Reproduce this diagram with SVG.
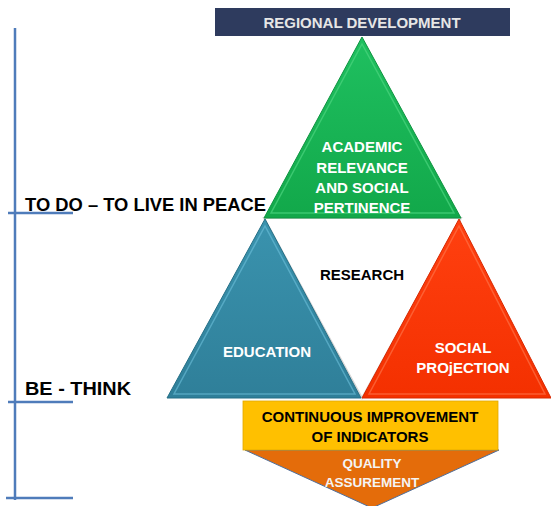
<svg xmlns="http://www.w3.org/2000/svg" width="551" height="506" viewBox="0 0 551 506">
<style>
.t{font-family:"Liberation Sans",Arial,sans-serif;font-weight:bold;text-anchor:middle}
.w{fill:#ffffff}
.k{fill:#000000}
.side{font-family:"Liberation Sans",Arial,sans-serif;font-weight:bold;font-size:18.5px;fill:#000000}
.scale{stroke:#4F7CBA;stroke-width:2.5;fill:none}
</style>
<defs>
<linearGradient id="gGreen" x1="0" y1="0" x2="0" y2="1"><stop offset="0" stop-color="#1FC060"/><stop offset="1" stop-color="#12A84A"/></linearGradient>
<linearGradient id="gBlue" x1="0" y1="0" x2="0" y2="1"><stop offset="0" stop-color="#3A93AE"/><stop offset="1" stop-color="#2F7F99"/></linearGradient>
<linearGradient id="gRed" x1="0" y1="0" x2="0" y2="1"><stop offset="0" stop-color="#FF4010"/><stop offset="1" stop-color="#F43000"/></linearGradient>
</defs>
<g id="scale" class="scale">
<line x1="15" y1="28" x2="15" y2="500"/>
<line x1="8" y1="213" x2="73" y2="213"/>
<line x1="8" y1="402" x2="73" y2="402"/>
<line x1="6" y1="498" x2="73" y2="498"/>
</g>
<g id="label-todo"><text class="side" x="25" y="211" textLength="241" lengthAdjust="spacingAndGlyphs">TO DO – TO LIVE IN PEACE</text></g>
<g id="label-be"><text class="side" x="25" y="395" textLength="106" lengthAdjust="spacingAndGlyphs">BE - THINK</text></g>
<g id="regional">
<rect x="215" y="8" width="295" height="28" fill="#2E3B5E"/>
<text class="t" x="362" y="28" font-size="15" fill="#E6E6E6">REGIONAL DEVELOPMENT</text>
</g>
<g id="research">
<polygon points="264,218 461,218 362,398" fill="#ffffff" stroke="#D6D6D6" stroke-width="2"/>
<text class="t k" x="362" y="280" font-size="15">RESEARCH</text>
</g>
<g id="academic">
<polygon points="362,37 264,218 461,218" fill="url(#gGreen)" stroke="#0E9440" stroke-width="1"/>
<polygon points="362,44 271,213 454,213" fill="none" stroke="#4CD47F" stroke-width="1.5" opacity="0.7"/>
<text class="t w" font-size="15"><tspan x="362" y="152">ACADEMIC</tspan><tspan x="362" y="173">RELEVANCE</tspan><tspan x="362" y="193">AND SOCIAL</tspan><tspan x="362" y="213">PERTINENCE</tspan></text>
</g>
<g id="education">
<polygon points="265,219 167,398 361,398" fill="url(#gBlue)" stroke="#256F86" stroke-width="1"/>
<polygon points="265,226 174,394 355,394" fill="none" stroke="#6CC0DA" stroke-width="1.5" opacity="0.6"/>
<text class="t w" x="267" y="357" font-size="15">EDUCATION</text>
</g>
<g id="social">
<polygon points="459,219 362,398 551,398" fill="url(#gRed)" stroke="#D82800" stroke-width="1"/>
<polygon points="459,226 369,394 545,394" fill="none" stroke="#FF7A50" stroke-width="1.5" opacity="0.6"/>
<text class="t w" font-size="15"><tspan x="463" y="353">SOCIAL</tspan><tspan x="463" y="373">PROjECTION</tspan></text>
</g>
<g id="quality">
<polygon points="245,450 499,450 372,508" fill="#E46C0A" stroke="#4F6E9A" stroke-width="1"/>
<text class="t" font-size="13.5" fill="#F4F4F4"><tspan x="372" y="468">QUALITY</tspan><tspan x="372" y="487">ASSUREMENT</tspan></text>
</g>
<g id="continuous">
<rect x="243" y="401" width="255" height="49" fill="#FFC000" stroke="#E0A800" stroke-width="0.8"/>
<text class="t k" font-size="15"><tspan x="370" y="422">CONTINUOUS IMPROVEMENT</tspan><tspan x="370" y="442">OF INDICATORS</tspan></text>
</g>
</svg>
